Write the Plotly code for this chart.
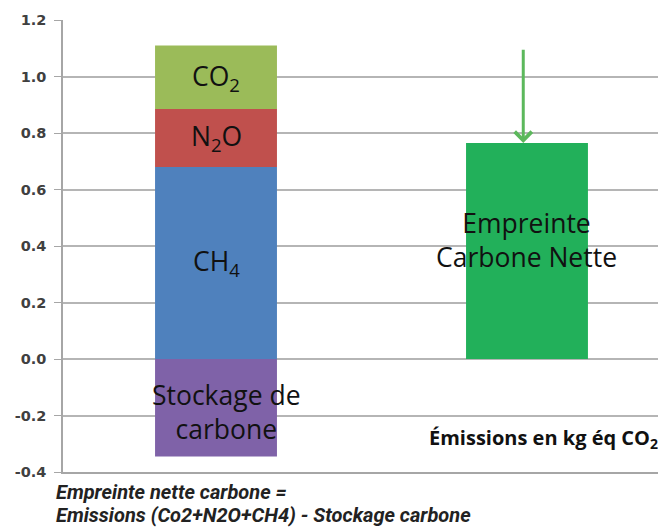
import plotly.graph_objects as go

categories = [0, 1]
ch4 = [0.68, 0]
n2o = [0.205, 0]
co2 = [0.225, 0]
stockage = [-0.345, 0]
nette = [0, 0.765]
arrow_start = 1.10

tick_vals = [-0.4, -0.2, 0.0, 0.2, 0.4, 0.6, 0.8, 1.0, 1.2]
tick_text = ["-0.4", "-0.2", "0.0", "0.2", "0.4", "0.6", "0.8", "1.0", "1.2"]

bar_w = 0.392
label_font = dict(family="Open Sans", size=26.5, color="#111111")

fig = go.Figure()
series = [
    ("CH4", ch4, "#4F81BD"),
    ("N2O", n2o, "#C0504D"),
    ("CO2", co2, "#9BBB59"),
    ("Stockage", stockage, "#7F62A8"),
    ("Nette", nette, "#22B05A"),
]
for name, vals, col in series:
    fig.add_trace(go.Bar(x=categories, y=vals, name=name, width=bar_w,
                         marker=dict(color=col, line=dict(width=0)),
                         showlegend=False, hoverinfo="skip"))

# label positions from the stacked data
y_ch4 = ch4[0] / 2
y_n2o = ch4[0] + n2o[0] / 2
y_co2 = ch4[0] + n2o[0] + co2[0] / 2
y_sto = stockage[0] * 0.545

note_font = dict(family="Roboto", size=20, color="#222222")

annotations = [
    dict(x=categories[0], y=y_co2, text="CO<sub>2</sub>", showarrow=False, font=label_font),
    dict(x=categories[0], y=y_n2o, text="N<sub>2</sub>O", showarrow=False, font=label_font),
    dict(x=categories[0], y=y_ch4, text="CH<sub>4</sub>", showarrow=False, font=label_font),
    dict(x=categories[0] + 0.035, y=y_sto, text="Stockage de<br>carbone", showarrow=False,
         font=label_font),
    dict(x=categories[1], y=0.42, text="Empreinte<br>Carbone Nette", showarrow=False,
         font=label_font),
    dict(x=categories[1] - 0.012, y=nette[1], ax=categories[1] - 0.012, ay=arrow_start,
         xref="x", yref="y", axref="x", ayref="y", text="", showarrow=True,
         arrowhead=4, arrowsize=1.1, arrowwidth=3, arrowcolor="#5CB85C"),
    dict(x=0.99, xref="paper", y=-0.283, yref="y", xanchor="right",
         text="Émissions en kg éq CO<sub>2</sub>", showarrow=False,
         font=dict(family="Open Sans", size=20, color="#111111", weight="bold")),
    dict(x=-0.015, xref="paper", y=-0.0442, yref="paper", xanchor="left", yanchor="middle",
         text="<b><i>Empreinte nette carbone =</i></b>", showarrow=False, font=note_font),
    dict(x=-0.015, xref="paper", y=-0.0962, yref="paper", xanchor="left", yanchor="middle",
         text="<b><i>Emissions (Co2+N2O+CH4) - Stockage carbone</i></b>", showarrow=False,
         font=note_font),
]

# the page body adds an 8px offset, so the figure is 8px smaller than the window
fig.update_layout(
    barmode="relative",
    width=658, height=521,
    margin=dict(l=55, r=0, t=12, b=57, autoexpand=False),
    plot_bgcolor="white", paper_bgcolor="white",
    annotations=annotations,
    xaxis=dict(range=[-0.492, 1.447], showticklabels=False, showgrid=False,
               zeroline=False, showline=True, linecolor="#A6A6A6", linewidth=2,
               automargin=False),
    yaxis=dict(range=[-0.4, 1.2], tickvals=tick_vals, ticktext=tick_text,
               showgrid=True, gridcolor="#B5B5B5", gridwidth=1.5,
               zeroline=True, zerolinecolor="#B5B5B5", zerolinewidth=1.5,
               showline=True, linecolor="#A6A6A6", linewidth=1.5,
               ticks="outside", ticklen=7, tickcolor="#A6A6A6", automargin=False,
               ticklabelstandoff=5,
               tickfont=dict(family="DejaVu Sans", size=14.5, color="#404040", weight="bold")),
)

fig.write_html("out.html")
